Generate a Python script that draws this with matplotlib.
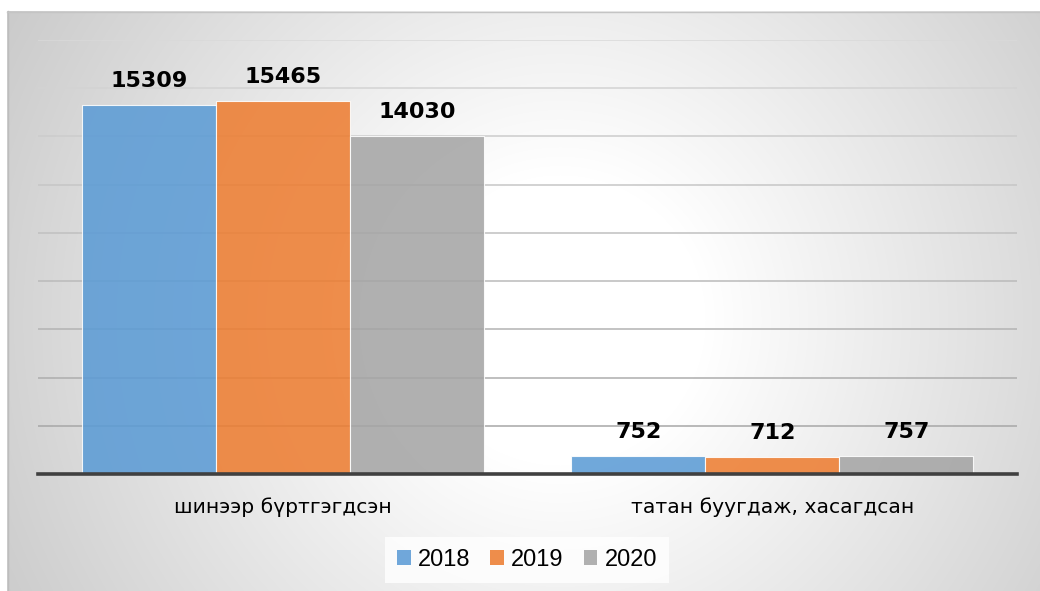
import numpy as np
import matplotlib
matplotlib.use('Agg')
import matplotlib.pyplot as plt

categories = ['шинээр бүртгэгдсэн', 'татан буугдаж, хасагдсан']
years = ['2018', '2019', '2020']
values = {
	'2018': [15309, 752],
	'2019': [15465, 712],
	'2020': [14030, 757],
}
colors = ['#5B9BD5', '#ED7D31', '#A5A5A5']

W, H = 1040, 591
fig = plt.figure(figsize=(W / 100, H / 100), dpi=100)
fig.patch.set_facecolor('white')

# radial grey background panel
bg = fig.add_axes([0, 0, 1, 1], zorder=0)
bg.set_xlim(0, W)
bg.set_ylim(H, 0)
bg.axis('off')
px, py = np.meshgrid(np.arange(7, W), np.arange(11, H))
d = np.hypot(px - 560, py - 320)
v = 1 - 0.00042 * np.clip(d - 145, 0, None)
bg.imshow(np.dstack([v, v, v]), extent=[7, W, H, 11], aspect='auto', interpolation='bilinear')
bg.plot([7.5, 7.5], [11, H], color='#bdbdbd', lw=1)
bg.plot([7, W], [11.5, 11.5], color='#c4c4c4', lw=1)

ax = fig.add_axes([38 / W, 1 - 474 / H, (1017 - 38) / W, (474 - 40) / H], zorder=1)
ax.patch.set_visible(False)

x = np.arange(len(categories))
bw = 0.274
for i, yr in enumerate(years):
	bars = ax.bar(x + (i - 1) * bw, values[yr], bw, color=colors[i], alpha=0.87,
		edgecolor=(1, 1, 1, 0.5), linewidth=0.8, label=yr, zorder=2)
	for b, val in zip(bars, values[yr]):
		ax.annotate(str(val), (b.get_x() + b.get_width() / 2, b.get_height()),
			xytext=(0, 13), textcoords='offset points', ha='center', va='baseline',
			fontsize=16, fontweight='bold', color='black', family='DejaVu Sans')

ax.set_xlim(-0.5, 1.5)
ax.set_ylim(0, 18000)
ax.set_yticks(np.arange(0, 18001, 2000))
ax.set_axisbelow(True)
ax.yaxis.grid(True, lw=1.1)
grid = ax.get_ygridlines()
for k, gl in enumerate(grid):
	c = 0.63 + 0.22 * k / (len(grid) - 1)
	gl.set_color((c, c, c))
ax.tick_params(axis='y', left=False, labelleft=False)
ax.set_xticks(x)
ax.set_xticklabels(categories, fontsize=14.6, family='DejaVu Sans')
ax.tick_params(axis='x', length=0, pad=17)
for s in ['top', 'right', 'left']:
	ax.spines[s].set_visible(False)
ax.spines['bottom'].set_color('#404040')
ax.spines['bottom'].set_linewidth(2.6)
ax.spines['bottom'].set_zorder(3)

leg = fig.legend(loc='center', bbox_to_anchor=(527 / W, 1 - 560 / H), ncol=3,
	prop={'family': 'Liberation Sans', 'size': 17}, handlelength=0.58, handleheight=0.58,
	handletextpad=0.3, columnspacing=0.85, borderpad=0.5, frameon=True, fancybox=False)
leg.get_frame().set_facecolor((1, 1, 1, 0.25))
leg.get_frame().set_edgecolor('none')
for h in leg.legend_handles:
	h.set_linewidth(0)

fig.savefig('out.png', dpi=100)
